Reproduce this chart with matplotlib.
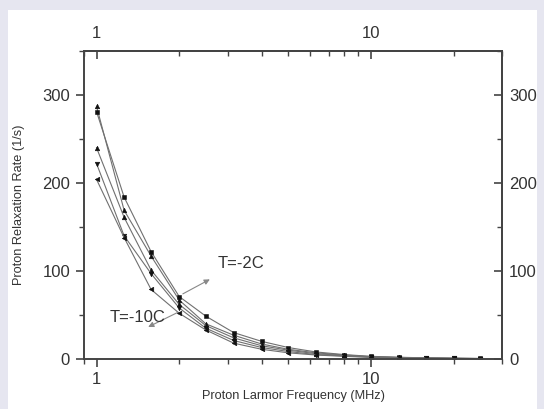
import numpy as np
import matplotlib
matplotlib.use("Agg")
import matplotlib.pyplot as plt
from matplotlib.patches import Rectangle
from matplotlib.ticker import LogLocator, NullFormatter, MultipleLocator, FixedLocator, FuncFormatter

plt.rcParams['font.family'] = ['Liberation Sans', 'DejaVu Sans']

# proton Larmor frequency (MHz)
freq = [1.0, 1.26, 1.58, 2.0, 2.5, 3.16, 4.0, 5.0, 6.3, 8.0, 10.0, 12.6, 15.8, 20.0, 25.0]

# relaxation rate (1/s), one list per temperature
rate_a = [287, 169, 117, 67, 40, 27, 17, 11, 7.0, 4.5, 2.7, 1.8, 1.2, 0.8, 0.55]
rate_b = [281, 184, 122, 71, 48.7, 30, 20, 13, 8.0, 5.0, 3.0, 2.0, 1.3, 0.9, 0.6]
rate_c = [240, 161, 101, 62, 38, 24, 15, 10, 6.0, 4.0, 2.4, 1.6, 1.1, 0.7, 0.5]
rate_d = [222, 140, 97, 58, 35, 21, 13, 8.5, 5.0, 3.5, 2.1, 1.4, 1.0, 0.65, 0.45]
rate_e = [204, 138, 79, 52, 33, 18, 11, 7, 4.5, 3.0, 1.8, 1.2, 0.9, 0.6, 0.4]

series = [(rate_a, '^'), (rate_b, 's'), (rate_c, '^'), (rate_d, 'v'), (rate_e, '<')]

fig = plt.figure(figsize=(5.44, 4.09), dpi=100)
fig.patch.set_facecolor('#e6e6f0')

# white panel behind the plot
bg = fig.add_axes([8 / 544, 0, 529 / 544, 1 - 10 / 409])
bg.axis('off')
bg.add_patch(Rectangle((0, 0), 1, 1, transform=bg.transAxes, facecolor='white', edgecolor='none'))

ax = fig.add_axes([84 / 544, 1 - 359 / 409, (502 - 84) / 544, (359 - 51) / 409])
ax.set_facecolor('white')

for vals, m in series:
    ax.plot(freq, vals, color='#707070', lw=0.8, marker=m, markersize=3.3,
            markerfacecolor='#111111', markeredgecolor='#111111', markeredgewidth=0.4)

ax.set_xscale('log')
ax.set_xlim(0.9, 30)
ax.set_ylim(0, 350)

axc = '#444444'
for s in ax.spines.values():
    s.set_color(axc)
    s.set_linewidth(1.4)


def style_x(a):
    a.xaxis.set_major_locator(FixedLocator([1, 10]))
    a.xaxis.set_major_formatter(FuncFormatter(lambda v, p: '%g' % v))
    a.xaxis.set_minor_locator(LogLocator(base=10, subs=np.arange(2, 10)))
    a.xaxis.set_minor_formatter(NullFormatter())


def style_y(a):
    a.yaxis.set_major_locator(MultipleLocator(100))
    a.yaxis.set_minor_locator(MultipleLocator(50))


style_x(ax)
style_y(ax)
ax.tick_params(which='both', colors=axc, labelcolor='#333333', labelsize=12, direction='out')
ax.tick_params(which='major', length=6, width=1.2, pad=3)
ax.tick_params(which='minor', length=3.5, width=1.0)
ax.tick_params(axis='y', which='major', pad=4)

# top and right axes: ticks pointing inside
top = ax.secondary_xaxis('top')
style_x(top)
top.tick_params(which='both', colors=axc, labelcolor='#333333', labelsize=12, direction='in')
top.tick_params(which='major', length=6, width=1.2, pad=7)
top.tick_params(which='minor', length=3.5, width=1.0)
top.spines['top'].set_color(axc)
top.spines['top'].set_linewidth(1.4)

right = ax.secondary_yaxis('right')
style_y(right)
right.tick_params(which='both', colors=axc, labelcolor='#333333', labelsize=12, direction='in')
right.tick_params(which='major', length=6, width=1.2, pad=5)
right.tick_params(which='minor', length=3.5, width=1.0)
right.spines['right'].set_color(axc)
right.spines['right'].set_linewidth(1.4)

ax.set_xlabel('Proton Larmor Frequency (MHz)', fontsize=9.2, color='#333333')
ax.set_ylabel('Proton Relaxation Rate (1/s)', fontsize=9.2, color='#333333')
ax.xaxis.set_label_coords(0.5, -0.101)
ax.yaxis.set_label_coords(-0.141, 0.5)

arrow = dict(arrowstyle='-|>', color='#888888', lw=0.8, mutation_scale=8)
ax.annotate('', xy=(2.64, 92), xytext=(2.02, 72.5), arrowprops=arrow)
ax.annotate('', xy=(1.51, 35), xytext=(2.02, 54.4), arrowprops=arrow)
ax.text(2.75, 109, 'T=-2C', fontsize=12, color='#333333', va='center', ha='left')
ax.text(1.115, 47.5, 'T=-10C', fontsize=12, color='#333333', va='center', ha='left')

fig.savefig('out.png', dpi=100, facecolor=fig.get_facecolor())
